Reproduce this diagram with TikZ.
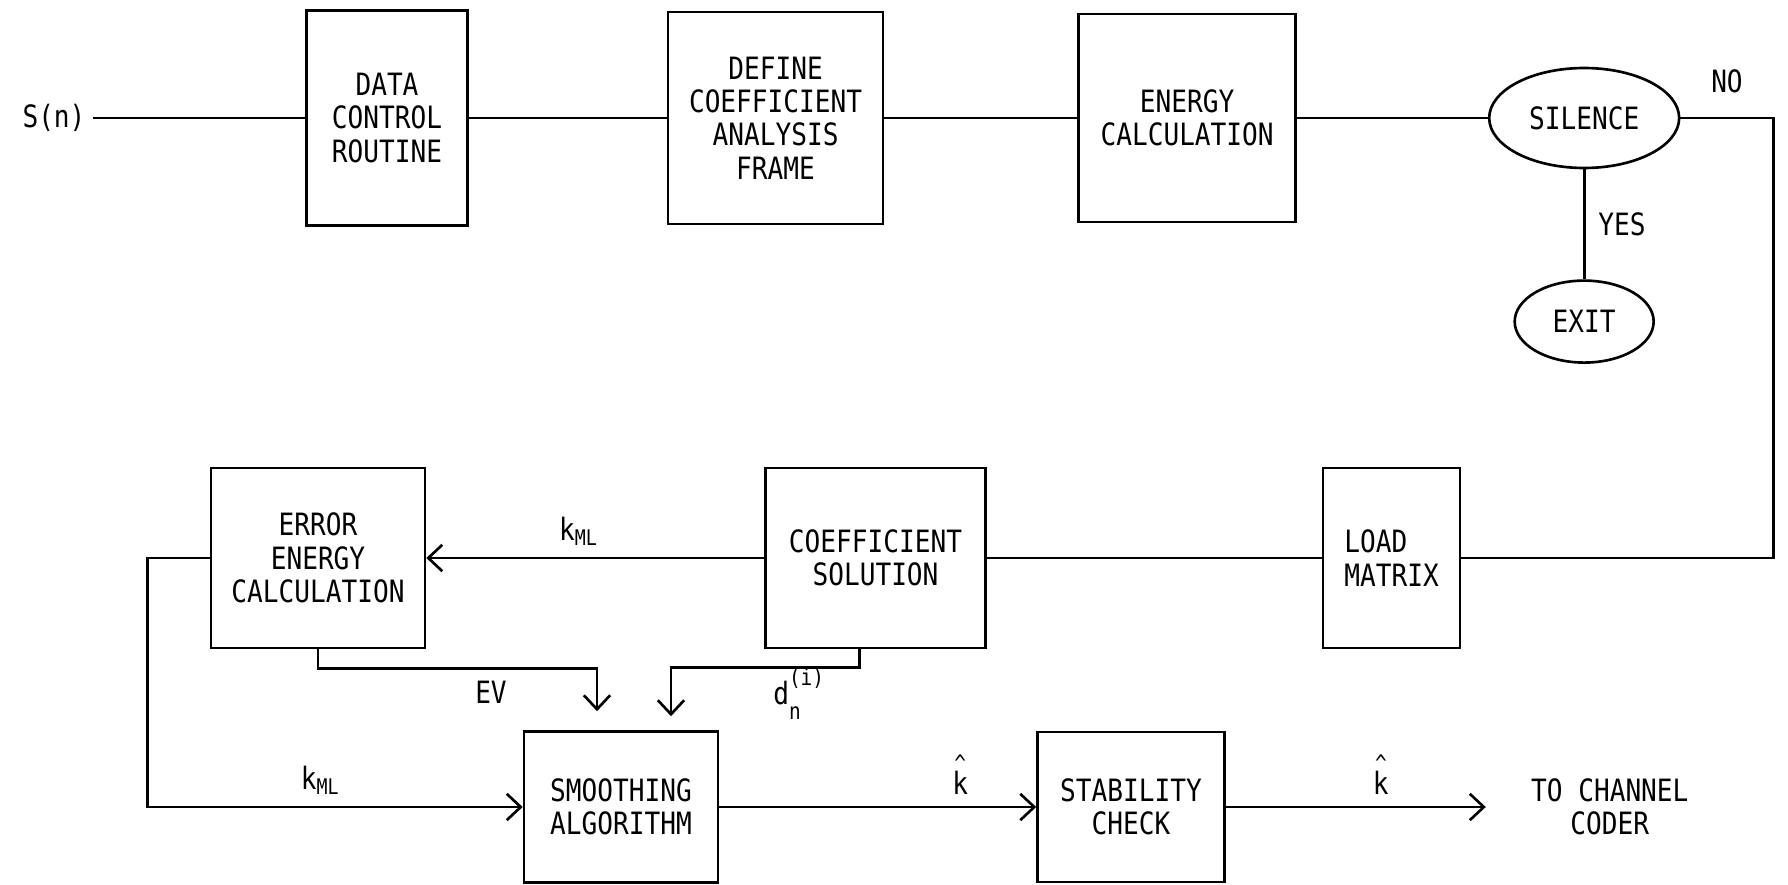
\documentclass[tikz,border=0pt]{standalone}
\usepackage{fontspec}
\setmainfont{DejaVu Sans Mono}[FakeStretch=0.85]
\usetikzlibrary{positioning,arrows.meta,calc,shapes.geometric}
\newcommand{\smallmono}{\fontsize{13pt}{14pt}\selectfont}
\newcommand{\khat}{\shortstack{{\smallmono\textasciicircum}\\[-3pt]k}}

\begin{document}
\begin{tikzpicture}[x=0.02cm,y=-0.02cm,>={Straight Barb[length=8pt,width=15pt]},line width=1.5pt,every node/.style={font=\fontsize{17.5pt}{19pt}\selectfont}]
\tikzstyle{blk}=[draw,align=center,minimum height=3.6cm]
\tikzstyle{oval}=[draw,ellipse,align=center]
\useasboundingbox (0,0) rectangle (1788,885);
% analysis frame set-up
\node (sn) at (54,118) {S(n)};
\node[blk,minimum width=3.22cm,minimum height=4.3cm] (data) at (387,118) {DATA\\CONTROL\\ROUTINE};
\node[blk,minimum width=4.3cm,minimum height=4.24cm,right=3.96cm of data] (frame) {DEFINE\\COEFFICIENT\\ANALYSIS\\FRAME};
\node[blk,minimum width=4.34cm,minimum height=4.16cm,right=3.86cm of frame] (energy) {ENERGY\\CALCULATION};
\node[oval,minimum width=3.8cm,minimum height=2cm,right=3.82cm of energy] (silence) {SILENCE};
\node[oval,minimum width=2.78cm,minimum height=1.64cm,below=2.2cm of silence] (exit) {EXIT};
\draw (sn)--(data); \draw (data)--(frame); \draw (frame)--(energy); \draw (energy)--(silence);
\draw (silence) -- node[right=4pt] (yes) {YES} (exit);
% coefficient solution
\node[blk,minimum width=4.28cm] (error) at (318,558) {ERROR\\ENERGY\\CALCULATION};
\node[blk,minimum width=4.4cm,right=6.76cm of error] (coeff) {COEFFICIENT\\SOLUTION};
\node[blk,minimum width=2.74cm,align=left,right=6.7cm of coeff] (load) {LOAD\\MATRIX};
\draw (silence.east) -- node[above=10pt] (no) {NO} ++(93,0) |- (load);
\draw (load)--(coeff);
\draw[->] (coeff) -- node[above=3pt,pos=0.55] (kml) {k\textsubscript{ML}} (error);
% smoothing and output
\node[blk,minimum width=3.88cm,minimum height=3.02cm] (smooth) at (621,807) {SMOOTHING\\ALGORITHM};
\node[blk,minimum width=3.74cm,minimum height=3cm,right=6.34cm of smooth] (stab) {STABILITY\\CHECK};
\node[inner sep=0pt,align=center,right=6.08cm of stab] (coder) {TO CHANNEL\\CODER};
\coordinate (evin) at ($(smooth.north)+(-24,-19)$);
\coordinate (din) at ($(smooth.north)+(50,-14)$);
\draw[->] (error.west) -- ++(-62,0) |- node[pos=0.73,above=3pt] (kmlb) {k\textsubscript{ML}} (smooth.west);
\draw[->] (error.south) -- ++(0,19) -| node[pos=0.31,below=3pt] (ev) {EV} (evin);
\draw[->] ($(coeff.south)+(-16,0)$) -- ++(0,18) -| (din);
\node (dn) at (787,694) {d\rlap{\raisebox{1.1ex}{\smallmono(i)}}\raisebox{-0.9ex}{\smallmono n}};
\draw[->] (smooth) -- node[pos=0.76,above=3pt] (khata) {\khat} (stab);
\draw[->,shorten >=0.88cm] (stab) -- node[pos=0.51,above=3pt] (khatb) {\khat} (coder);
\end{tikzpicture}
\end{document}
